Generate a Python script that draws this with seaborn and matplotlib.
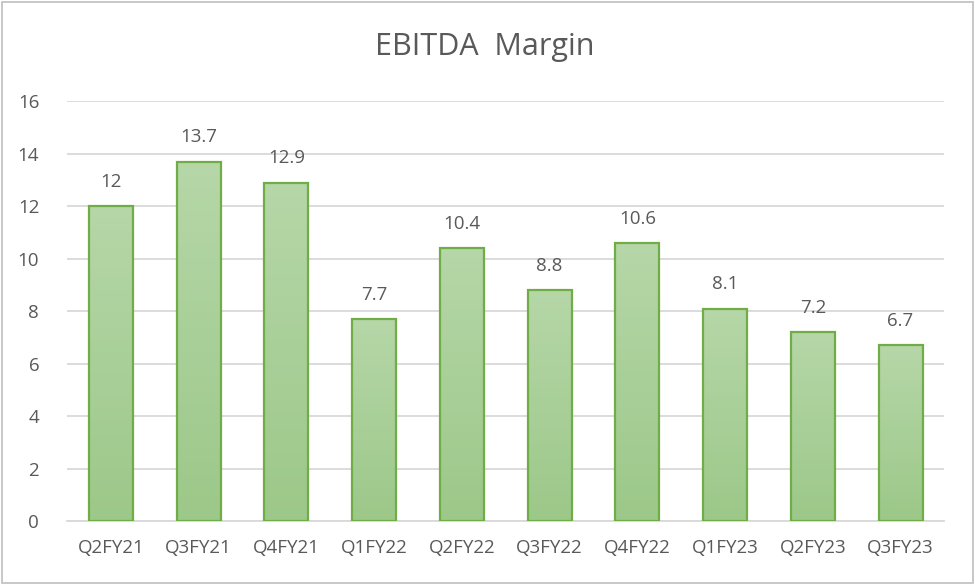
import numpy as np
import pandas as pd
import matplotlib
matplotlib.use("Agg")
import matplotlib.pyplot as plt
import seaborn as sns
from matplotlib.colors import LinearSegmentedColormap
from matplotlib.patches import Rectangle

# Data
quarters = ["Q2FY21", "Q3FY21", "Q4FY21", "Q1FY22", "Q2FY22",
            "Q3FY22", "Q4FY22", "Q1FY23", "Q2FY23", "Q3FY23"]
margin = [12, 13.7, 12.9, 7.7, 10.4, 8.8, 10.6, 8.1, 7.2, 6.7]
labels = ["12", "13.7", "12.9", "7.7", "10.4", "8.8", "10.6", "8.1", "7.2", "6.7"]

df = pd.DataFrame({"quarter": quarters, "margin": margin})

sns.set_style("white")
plt.rcParams['font.family'] = ['Open Sans', 'DejaVu Sans']
grey = "#595959"

fig = plt.figure(figsize=(9.75, 5.85), dpi=100)
ax = fig.add_axes([0.0687, 0.109, 0.9, 0.718])

sns.barplot(data=df, x="quarter", y="margin", ax=ax, width=0.5,
            color="#a9d18e", edgecolor="#70ad47", linewidth=1.6, zorder=3)

# gradient fill inside each bar
cmap = LinearSegmentedColormap.from_list("g", ["#9cc889", "#b6d7a8"])
grad = np.linspace(0, 1, 256).reshape(-1, 1)
for p in ax.patches:
    x0, y0 = p.get_x(), p.get_y()
    w, h = p.get_width(), p.get_height()
    im = ax.imshow(grad, cmap=cmap, origin="lower", aspect="auto",
                   extent=[x0, x0 + w, y0, y0 + h], zorder=2.5)
    im.set_clip_path(p)
    p.set_facecolor("none")

ax.set_xlim(-0.5, len(quarters) - 0.5)
ax.set_ylim(0, 16)
ax.set_yticks(range(0, 17, 2))
ax.grid(axis="y", color="#d9d9d9", linewidth=1.3, zorder=0)
ax.set_axisbelow(True)
for s in ["top", "right", "left"]:
    ax.spines[s].set_visible(False)
ax.spines["bottom"].set_color("#d9d9d9")
ax.spines["bottom"].set_linewidth(1.3)
ax.tick_params(axis="both", length=0, labelsize=13.5, colors=grey)
ax.tick_params(axis="x", pad=13)
ax.tick_params(axis="y", pad=20)
ax.set_xlabel("")
ax.set_ylabel("")

for i, (v, t) in enumerate(zip(margin, labels)):
    ax.annotate(t, (i, v), xytext=(0, 11), textcoords="offset points",
                ha="center", va="bottom", fontsize=13.5, color=grey)

fig.text(0.497, 0.92, "EBITDA  Margin", ha="center", va="center",
         fontsize=22, color=grey)

fig.patches.append(Rectangle((0.002, 0.003), 0.996, 0.994, transform=fig.transFigure,
                             fill=False, edgecolor="#bfbfbf", linewidth=1.2))

fig.savefig("out.png", dpi=100)
